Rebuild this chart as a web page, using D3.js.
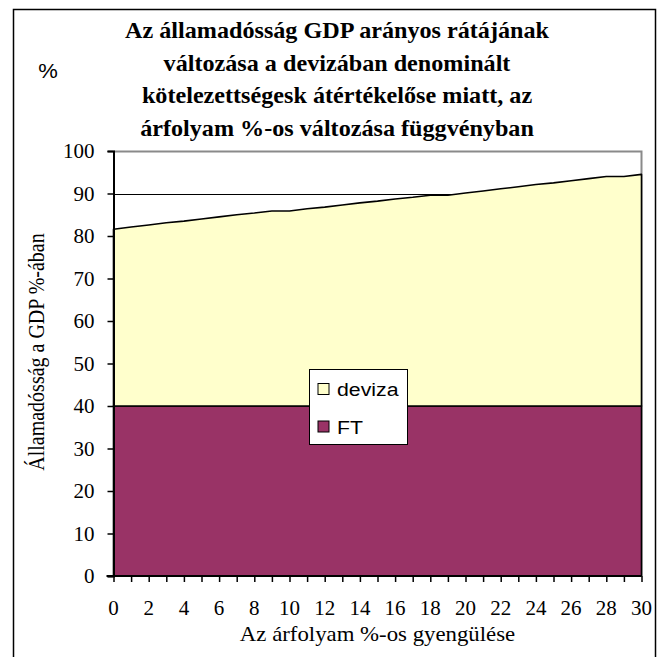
<!DOCTYPE html>
<html>
<head>
<meta charset="utf-8">
<script src="https://cdn.jsdelivr.net/npm/d3@7"></script>
<style>
  html, body { margin: 0; padding: 0; background: #ffffff; }
  svg { display: block; }
</style>
</head>
<body>
<div id="chart"></div>
<script>
// ---- data ----
const categories = [0,1,2,3,4,5,6,7,8,9,10,11,12,13,14,15,16,17,18,19,20,21,22,23,24,25,26,27,28,29,30];
const ftValues = [40,40,40,40,40,40,40,40,40,40,40,40,40,40,40,40,40,40,40,40,40,40,40,40,40,40,40,40,40,40,40];
const devizaValues = [41.6,42.1,42.6,43.1,43.5,44.0,44.5,45.0,45.4,45.9,45.9,46.4,46.8,47.3,47.8,48.2,48.7,49.1,49.6,49.6,50.1,50.6,51.1,51.6,52.1,52.5,53.0,53.5,54.0,54.0,54.5];
const seriesNames = ["FT", "deviza"];
const seriesColors = ["#993366", "#FFFFCC"];
const xTickLabels = [0,2,4,6,8,10,12,14,16,18,20,22,24,26,28,30];
const yTickLabels = [0,10,20,30,40,50,60,70,80,90,100];
const titleLines = [
  "Az államadósság GDP arányos rátájának",
  "változása a devizában denominált",
  "kötelezettségesk átértékelőse miatt, az",
  "árfolyam %-os változása függvényban"
];
const xTitle = "Az árfolyam %-os gyengülése";
const yTitle = "Államadósság a GDP %-ában";
const unitLabel = "%";

// ---- layout ----
const W = 661, H = 657;
const svg = d3.select("#chart").append("svg").attr("width", W).attr("height", H);

const pL = 113.5, pR = 641.5, pT = 151, pB = 576;
const x = d3.scaleLinear().domain([0, 30]).range([pL, pR]);
const y = d3.scaleLinear().domain([0, 100]).range([pB, pT]);

const serif = "'Liberation Serif', 'Times New Roman', serif";
const sans = "'Liberation Sans', Arial, sans-serif";

// outer frame (extends beyond bottom of picture)
svg.append("rect")
  .attr("x", 13.5).attr("y", 9.5)
  .attr("width", 642).attr("height", 700)
  .attr("fill", "none").attr("stroke", "#000").attr("stroke-width", 1.5);

// title
svg.append("g").selectAll("text").data(titleLines).join("text")
  .attr("transform", (d, i) => `translate(337,${38 + i * 32.5}) scale(1.05,1)`)
  .attr("text-anchor", "middle")
  .attr("font-family", serif).attr("font-weight", "bold").attr("font-size", 23)
  .text(d => d);

svg.append("text")
  .attr("transform", "translate(48,78) scale(1.1,1)")
  .attr("text-anchor", "middle")
  .attr("font-family", sans).attr("font-size", 20)
  .text(unitLabel);

// gridlines
svg.append("g").selectAll("line").data(yTickLabels.filter(v => v > 0 && v < 100)).join("line")
  .attr("x1", pL).attr("x2", pR)
  .attr("y1", d => Math.round(y(d)) + 0.5).attr("y2", d => Math.round(y(d)) + 0.5)
  .attr("stroke", "#000").attr("stroke-width", 1);

// plot area border (top & right) gray
svg.append("path")
  .attr("d", `M${pL},${pT + 0.5}H${pR}V${pB}`)
  .attr("fill", "none").attr("stroke", "#8a8a8a").attr("stroke-width", 2);

// stacked areas
const table = categories.map((c, i) => ({ x: c, FT: ftValues[i], deviza: devizaValues[i] }));
const stacked = d3.stack().keys(seriesNames)(table);
const area = d3.area()
  .x(d => x(d.data.x))
  .y0(d => y(d[0]))
  .y1(d => y(d[1]));

svg.append("g").selectAll("path").data(stacked).join("path")
  .attr("d", area)
  .attr("fill", (d, i) => seriesColors[i])
  .attr("stroke", "#000").attr("stroke-width", 1.6).attr("stroke-linejoin", "round");

// axes
const yAxis = d3.axisLeft(y).tickValues(yTickLabels).tickSize(6).tickPadding(13).tickFormat(d3.format("d"));
const gy = svg.append("g").attr("transform", `translate(${pL},0)`).call(yAxis);
gy.select(".domain").attr("stroke", "#000").attr("stroke-width", 2);
gy.selectAll(".tick line").attr("stroke", "#000").attr("stroke-width", 1.5);
gy.selectAll(".tick text")
  .attr("font-family", serif).attr("font-size", 21).attr("fill", "#000").attr("dy", "0.33em");

const xAxis = d3.axisBottom(x).tickValues(categories).tickSize(6).tickFormat("");
const gx = svg.append("g").attr("transform", `translate(0,${pB})`).call(xAxis);
gx.select(".domain").attr("stroke", "#000").attr("stroke-width", 2).attr("d", `M${pL - 7},0H${pR}`);
gx.selectAll(".tick line").attr("stroke", "#000").attr("stroke-width", 1.5);

svg.append("g").selectAll("text").data(xTickLabels).join("text")
  .attr("x", d => x(d)).attr("y", 615)
  .attr("text-anchor", "middle")
  .attr("font-family", serif).attr("font-size", 21)
  .text(d => d);

// axis titles
svg.append("text")
  .attr("transform", `translate(${(pL + pR) / 2},641) scale(1.14,1)`)
  .attr("text-anchor", "middle")
  .attr("font-family", serif).attr("font-size", 20)
  .text(xTitle);

svg.append("text")
  .attr("transform", `translate(44,352) scale(1.15,1) rotate(-90)`)
  .attr("text-anchor", "middle")
  .attr("font-family", serif).attr("font-size", 20)
  .text(yTitle);

// legend
const lg = svg.append("g");
lg.append("rect")
  .attr("x", 309.5).attr("y", 369.5).attr("width", 98).attr("height", 75)
  .attr("fill", "#fff").attr("stroke", "#000").attr("stroke-width", 1);
const legendItems = [
  { name: "deviza", color: seriesColors[1], cy: 389 },
  { name: "FT", color: seriesColors[0], cy: 426.5 }
];
legendItems.forEach(it => {
  lg.append("rect")
    .attr("x", 318).attr("y", it.cy - 5.5).attr("width", 11).attr("height", 11)
    .attr("fill", it.color).attr("stroke", "#000").attr("stroke-width", 1);
  lg.append("text")
    .attr("transform", `translate(337,${it.cy + 7}) scale(1.12,1)`)
    .attr("font-family", sans).attr("font-size", 19)
    .text(it.name);
});
</script>
</body>
</html>
